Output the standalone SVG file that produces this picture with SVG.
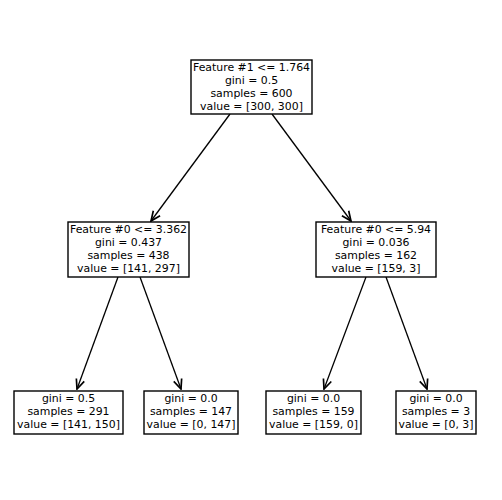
<svg xmlns="http://www.w3.org/2000/svg" width="502" height="500" viewBox="0 0 502 500">
<style>
.box{fill:#fff;stroke:#000;stroke-width:1.4}
text{font-family:"DejaVu Sans",sans-serif;font-size:10.9px;fill:#000;text-anchor:middle}
.edge{stroke:#000;stroke-width:1.3;fill:none;marker-end:url(#ah)}
</style>
<defs>
<marker id="ah" markerUnits="userSpaceOnUse" markerWidth="12" markerHeight="12" refX="9" refY="4" orient="auto" viewBox="0 0 10 8">
<path d="M1,0.5 L9,4 L1,7.5" fill="none" stroke="#000" stroke-width="1.4"/>
</marker>
</defs>
<rect width="502" height="500" fill="#fff"/>
<g id="connectors">
<line class="edge" x1="230" y1="114" x2="151" y2="221"/>
<line class="edge" x1="272" y1="114" x2="351" y2="221"/>
<line class="edge" x1="118" y1="277" x2="77" y2="389"/>
<line class="edge" x1="140" y1="277" x2="181" y2="389"/>
<line class="edge" x1="366" y1="277" x2="324" y2="389"/>
<line class="edge" x1="386" y1="277" x2="427" y2="389"/>
</g>
<g id="node0">
<rect class="box" x="191" y="60" width="121" height="54"/>
<text x="251.5" y="71">Feature #1 &lt;= 1.764</text>
<text x="251.5" y="84">gini = 0.5</text>
<text x="251.5" y="97">samples = 600</text>
<text x="251.5" y="110">value = [300, 300]</text>
</g>
<g id="node1">
<rect class="box" x="68" y="222" width="121" height="55"/>
<text x="128.5" y="233">Feature #0 &lt;= 3.362</text>
<text x="128.5" y="246">gini = 0.437</text>
<text x="128.5" y="259">samples = 438</text>
<text x="128.5" y="272">value = [141, 297]</text>
</g>
<g id="node4">
<rect class="box" x="316" y="222" width="120" height="55"/>
<text x="376" y="233">Feature #0 &lt;= 5.94</text>
<text x="376" y="246">gini = 0.036</text>
<text x="376" y="259">samples = 162</text>
<text x="376" y="272">value = [159, 3]</text>
</g>
<g id="node2">
<rect class="box" x="14" y="391" width="109" height="43"/>
<text x="68.5" y="402">gini = 0.5</text>
<text x="68.5" y="415">samples = 291</text>
<text x="68.5" y="428">value = [141, 150]</text>
</g>
<g id="node3">
<rect class="box" x="144" y="391" width="94" height="43"/>
<text x="191" y="402">gini = 0.0</text>
<text x="191" y="415">samples = 147</text>
<text x="191" y="428">value = [0, 147]</text>
</g>
<g id="node5">
<rect class="box" x="266" y="391" width="95" height="43"/>
<text x="313.5" y="402">gini = 0.0</text>
<text x="313.5" y="415">samples = 159</text>
<text x="313.5" y="428">value = [159, 0]</text>
</g>
<g id="node6">
<rect class="box" x="396" y="391" width="80" height="43"/>
<text x="436" y="402">gini = 0.0</text>
<text x="436" y="415">samples = 3</text>
<text x="436" y="428">value = [0, 3]</text>
</g>
</svg>
